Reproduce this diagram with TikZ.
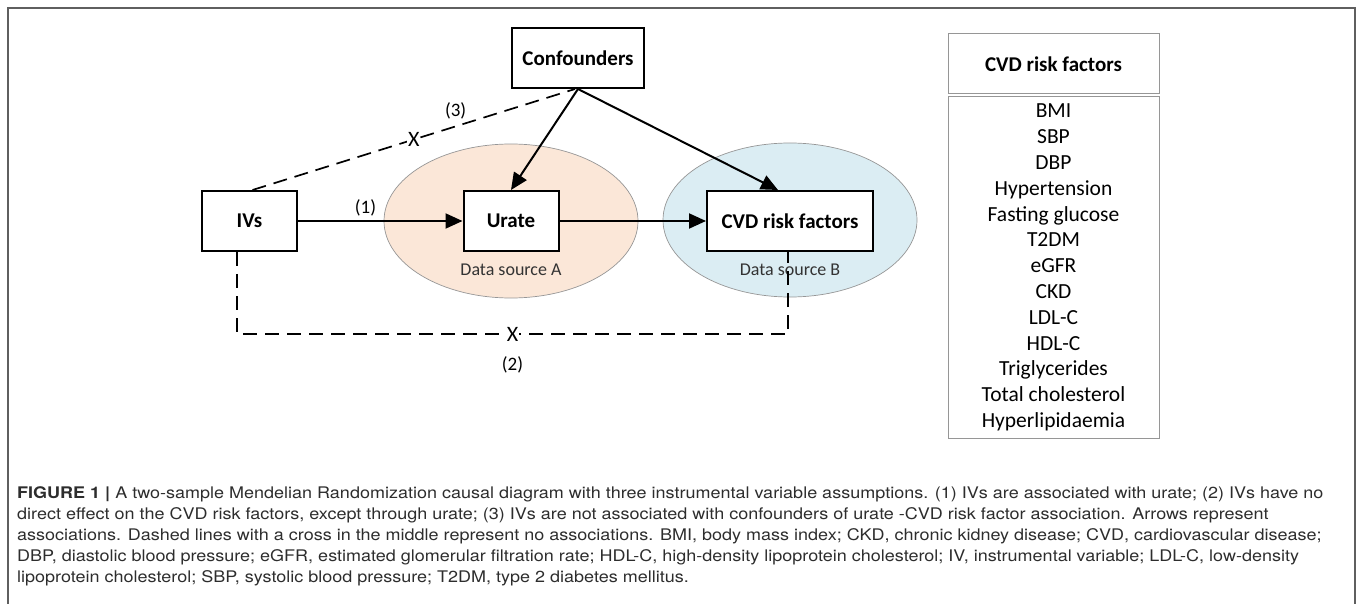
\documentclass[tikz,border=0pt]{standalone}
\usepackage{fontspec}
\setmainfont{Carlito}
\newfontfamily\capfont[FakeStretch=1.125]{TeX Gyre Heros}
\usetikzlibrary{calc,arrows.meta,shapes.geometric}
\definecolor{framegray}{RGB}{95,95,95}
\definecolor{tabgray}{RGB}{150,150,150}
\definecolor{ellgray}{RGB}{150,150,150}
\definecolor{srcafill}{RGB}{251,231,216}
\definecolor{srcbfill}{RGB}{219,237,243}
\definecolor{captext}{RGB}{45,45,45}
\tikzset{
    capt/.style={
        font=\capfont\fontsize{16}{21}\selectfont
    }
}

\begin{document}
\begin{tikzpicture}[x=1pt,y=-1pt, line cap=butt, line join=miter]

% background
\useasboundingbox (0,0) rectangle (1358,604);
\draw[framegray, line width=1.5pt] (8,604) |- (1355,8) -- (1355,604);

\tikzset{
  box/.style={draw=black, fill=white, line width=2pt, inner sep=0pt, minimum height=60pt, font=\fontsize{21}{25}\selectfont\bfseries},
  src/.style={ellipse, draw=ellgray, line width=0.7pt, minimum width=254pt, minimum height=154pt, inner sep=0pt},
  srclab/.style={font=\fontsize{18}{22}\selectfont, text=black!80},
  arr/.style={draw=black, line width=2pt, -{Triangle[length=17pt,width=15pt]}},
  noassoc/.style={draw=black, line width=1.7pt, dash pattern=on 14pt off 8pt},
  xmark/.style={fill=white, inner sep=1pt, font=\fontsize{22}{26}\selectfont},
  numlab/.style={font=\fontsize{19}{23}\selectfont},
  tab/.style={draw=tabgray, line width=1pt, minimum width=211pt, inner sep=0pt},
}

% data sources
\node[src, fill=srcafill] (srcA) at (511,221) {};
\node[src, fill=srcbfill] (srcB) at (790,220) {};
\node[srclab] (labA) at (511,270) {Data source A};
\node[srclab] (labB) at (790,270) {Data source B};

% nodes
\node[box, minimum width=132pt] (conf)  at (578,58)   {Confounders};
\node[box, minimum width=95pt]  (ivs)   at (249.5,221) {IVs};
\node[box, minimum width=95pt]  (urate) at (511,221)  {Urate};
\node[box, minimum width=166pt] (cvd)   at (790,221)  {CVD risk factors};

% arrows
\draw[arr] (ivs) -- node[pos=0.41, above=1pt, numlab] {(1)} (urate);
\draw[arr] (urate) -- (cvd);
\draw[arr] (conf.south) -- (urate.north);
\draw[arr] (conf.south) -- ([xshift=-12pt]cvd.north);

% no associations
\draw[noassoc] ([xshift=3pt]ivs.north) -- node[xmark] {X} node[pos=0.63, above=3pt, numlab] {(3)} ([xshift=-3pt]conf.south);
\draw[noassoc] ([xshift=-12.5pt]ivs.south) -- ++(0,82)
  -| node[pos=0.25, xmark] {X} node[pos=0.25, below=18pt, numlab] {(2)} ([xshift=-2pt]cvd.south);

% list of risk factors
\node[tab, minimum height=60pt, font=\fontsize{21}{25}\selectfont\bfseries] (tabhead) at (1053.5,64) {CVD risk factors};
\node[tab, minimum height=341pt, align=center, font=\fontsize{21.5}{25.8}\selectfont] (tablist) at (1053.5,267.5)
  {BMI\\SBP\\DBP\\Hypertension\\Fasting glucose\\T2DM\\eGFR\\CKD\\LDL-C\\HDL-C\\Triglycerides\\Total cholesterol\\Hyperlipidaemia};

% caption
\node[capt, text=captext, anchor=north west, align=left, inner sep=0pt] (caption) at (17,486)
  {\textbf{FIGURE 1 |} A two-sample Mendelian Randomization causal diagram with three instrumental variable assumptions. (1) IVs are associated with urate; (2) IVs have no\\
   direct effect on the CVD risk factors, except through urate; (3) IVs are not associated with confounders of urate -CVD risk factor association. Arrows represent\\
   associations. Dashed lines with a cross in the middle represent no associations. BMI, body mass index; CKD, chronic kidney disease; CVD, cardiovascular disease;\\
   DBP, diastolic blood pressure; eGFR, estimated glomerular filtration rate; HDL-C, high-density lipoprotein cholesterol; IV, instrumental variable; LDL-C, low-density\\
   lipoprotein cholesterol; SBP, systolic blood pressure; T2DM, type 2 diabetes mellitus.};

\end{tikzpicture}
\end{document}
